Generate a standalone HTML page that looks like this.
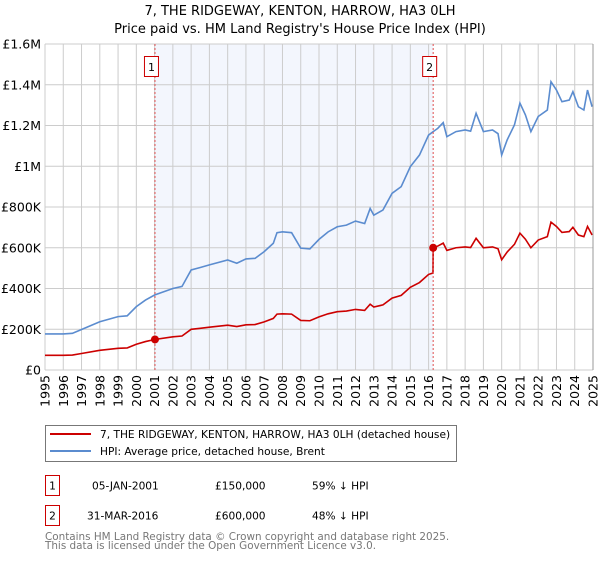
<!DOCTYPE html>
<html><head><meta charset="utf-8"><style>
body{margin:0;background:#fff;font-family:"DejaVu Sans","Liberation Sans",sans-serif;}
svg text{font-family:"DejaVu Sans","Liberation Sans",sans-serif;}
</style></head><body>
<svg id="c" width="600" height="560" xmlns="http://www.w3.org/2000/svg">
<text x="300" y="15" text-anchor="middle" font-size="13">7, THE RIDGEWAY, KENTON, HARROW, HA3 0LH</text>
<text x="300" y="33" text-anchor="middle" font-size="13">Price paid vs. HM Land Registry's House Price Index (HPI)</text>
<g id="plot"></g>
<g>
<rect x="45.5" y="425.5" width="411" height="36" fill="#fff" stroke="#777"/>
<line x1="50" y1="434" x2="91" y2="434" stroke="#cc0000" stroke-width="2"/>
<text x="100" y="438" font-size="10.6">7, THE RIDGEWAY, KENTON, HARROW, HA3 0LH (detached house)</text>
<line x1="50" y1="451" x2="91" y2="451" stroke="#5b8ccf" stroke-width="2"/>
<text x="100" y="455" font-size="10.6">HPI: Average price, detached house, Brent</text>
</g>
<g font-size="10.6">
<rect x="45.5" y="475.5" width="14" height="20" fill="#fff" stroke="#cc0000"/>
<text x="52.5" y="489.5" text-anchor="middle">1</text>
<text x="92" y="489.5">05-JAN-2001</text>
<text x="215" y="489.5">£150,000</text>
<text x="312" y="489.5">59% ↓ HPI</text>
<rect x="45.5" y="505.5" width="14" height="20" fill="#fff" stroke="#cc0000"/>
<text x="52.5" y="519.5" text-anchor="middle">2</text>
<text x="87" y="519.5">31-MAR-2016</text>
<text x="215" y="519.5">£600,000</text>
<text x="312" y="519.5">48% ↓ HPI</text>
</g>
<text x="45" y="540" font-size="10.4" fill="#777">Contains HM Land Registry data © Crown copyright and database right 2025.</text>
<text x="45" y="549" font-size="10.4" fill="#777">This data is licensed under the Open Government Licence v3.0.</text>
</svg>
<script>
const hpiYears=[1995,1996,1996.5,1997,1998,1999,1999.5,2000,2000.5,2001,2002,2002.5,2003,2003.5,2004,2005,2005.5,2006,2006.5,2007,2007.5,2007.7,2008,2008.5,2009,2009.5,2010,2010.5,2011,2011.5,2012,2012.5,2012.8,2013,2013.5,2014,2014.5,2015,2015.5,2016,2016.25,2016.5,2016.8,2017,2017.5,2018,2018.3,2018.6,2019,2019.5,2019.8,2020,2020.3,2020.7,2021,2021.3,2021.6,2022,2022.5,2022.7,2023,2023.3,2023.7,2023.9,2024.2,2024.5,2024.7,2024.95];
const hpiValues=[177,177,180,199,237,262,266,311,343,368,400,410,491,503,516,540,524,545,548,581,622,674,678,674,598,594,641,678,703,711,731,719,793,760,785,867,900,998,1055,1153,1170,1186,1214,1145,1170,1178,1172,1260,1170,1178,1160,1055,1129,1203,1310,1252,1170,1244,1276,1415,1374,1317,1325,1366,1292,1276,1374,1292];
const saleYears=[2001.02,2016.25];
const salePrices=[150,600];
const saleLabels=["1","2"];
const yTicks=[0,200,400,600,800,1000,1200,1400,1600];
const yTickLabels=["£0","£200K","£400K","£600K","£800K","£1M","£1.2M","£1.4M","£1.6M"];
const xTicks=[1995,1996,1997,1998,1999,2000,2001,2002,2003,2004,2005,2006,2007,2008,2009,2010,2011,2012,2013,2014,2015,2016,2017,2018,2019,2020,2021,2022,2023,2024,2025];

const X0=45,X1=593,Y0=370,Y1=44;
const xs=y=>X0+(y-1995)/30*(X1-X0);
const ys=v=>Y0-v/1600*(Y0-Y1);
const NS="http://www.w3.org/2000/svg";
const g=document.getElementById('plot');
function mk(t,a){const e=document.createElementNS(NS,t);for(const k in a)e.setAttribute(k,a[k]);g.appendChild(e);return e;}
function hpiAt(t){for(let i=0;i<hpiYears.length-1;i++){if(t<=hpiYears[i+1]){const f=(t-hpiYears[i])/(hpiYears[i+1]-hpiYears[i]);return hpiValues[i]+f*(hpiValues[i+1]-hpiValues[i]);}}return hpiValues[hpiValues.length-1];}

let e=mk('rect',{x:xs(saleYears[0]),y:Y1,width:xs(saleYears[1])-xs(saleYears[0]),height:Y0-Y1,fill:'#f3f6fd'});

yTicks.forEach((v,i)=>{
 let l=mk('line',{x1:X0,x2:X1,y1:ys(v),y2:ys(v),stroke:'#ccc'});
 
 let t=mk('text',{x:X0-4,y:ys(v)+4.5,'text-anchor':'end','font-size':'12.5'});t.textContent=yTickLabels[i];
 
});
xTicks.forEach(y=>{
 let l=mk('line',{x1:xs(y),x2:xs(y),y1:Y1,y2:Y0,stroke:'#ccc'});
 
 let t=mk('text',{x:0,y:0,'font-size':'12.5','text-anchor':'end',transform:`translate(${xs(y)+4.5},${Y0+5}) rotate(-90)`});t.textContent=y;
 
});
const redPts=hpiYears.map((t,i)=>{let k=t<saleYears[1]?0:1;return [t,salePrices[k]*hpiValues[i]/hpiAt(saleYears[k])];});
const ps=[];redPts.forEach(p=>{if(p[0]>=saleYears[1]&&ps.length&&ps[ps.length-1][0]<saleYears[1]){ps.push([saleYears[1]-0.01,salePrices[0]*hpiAt(saleYears[1]-0.01)/hpiAt(saleYears[0])]);}ps.push(p);});
e=mk('polyline',{points:hpiYears.map((t,i)=>xs(t)+','+ys(hpiValues[i])).join(' '),fill:'none',stroke:'#5b8ccf','stroke-width':1.6});

e=mk('polyline',{points:ps.map(p=>xs(p[0])+','+ys(p[1])).join(' '),fill:'none',stroke:'#cc0000','stroke-width':1.6});

mk('line',{x1:X1,x2:X1,y1:Y1,y2:Y0,stroke:'#999'});
saleYears.forEach((t,i)=>{
 let l=mk('line',{x1:xs(t),x2:xs(t),y1:Y1,y2:Y0,stroke:'#e05050','stroke-dasharray':'2,2','stroke-width':1});
 
 let c=mk('circle',{cx:xs(t),cy:ys(salePrices[i]),r:4,fill:'#cc0000'});
 
 let r=mk('rect',{x:xs(t)-10.5,y:56.5,width:14,height:20,fill:'#fff',stroke:'#cc0000'});
 
 let tx=mk('text',{x:xs(t)-3.5,y:71,'text-anchor':'middle','font-size':'11'});tx.textContent=saleLabels[i];
 
});
</script>
</body></html>
